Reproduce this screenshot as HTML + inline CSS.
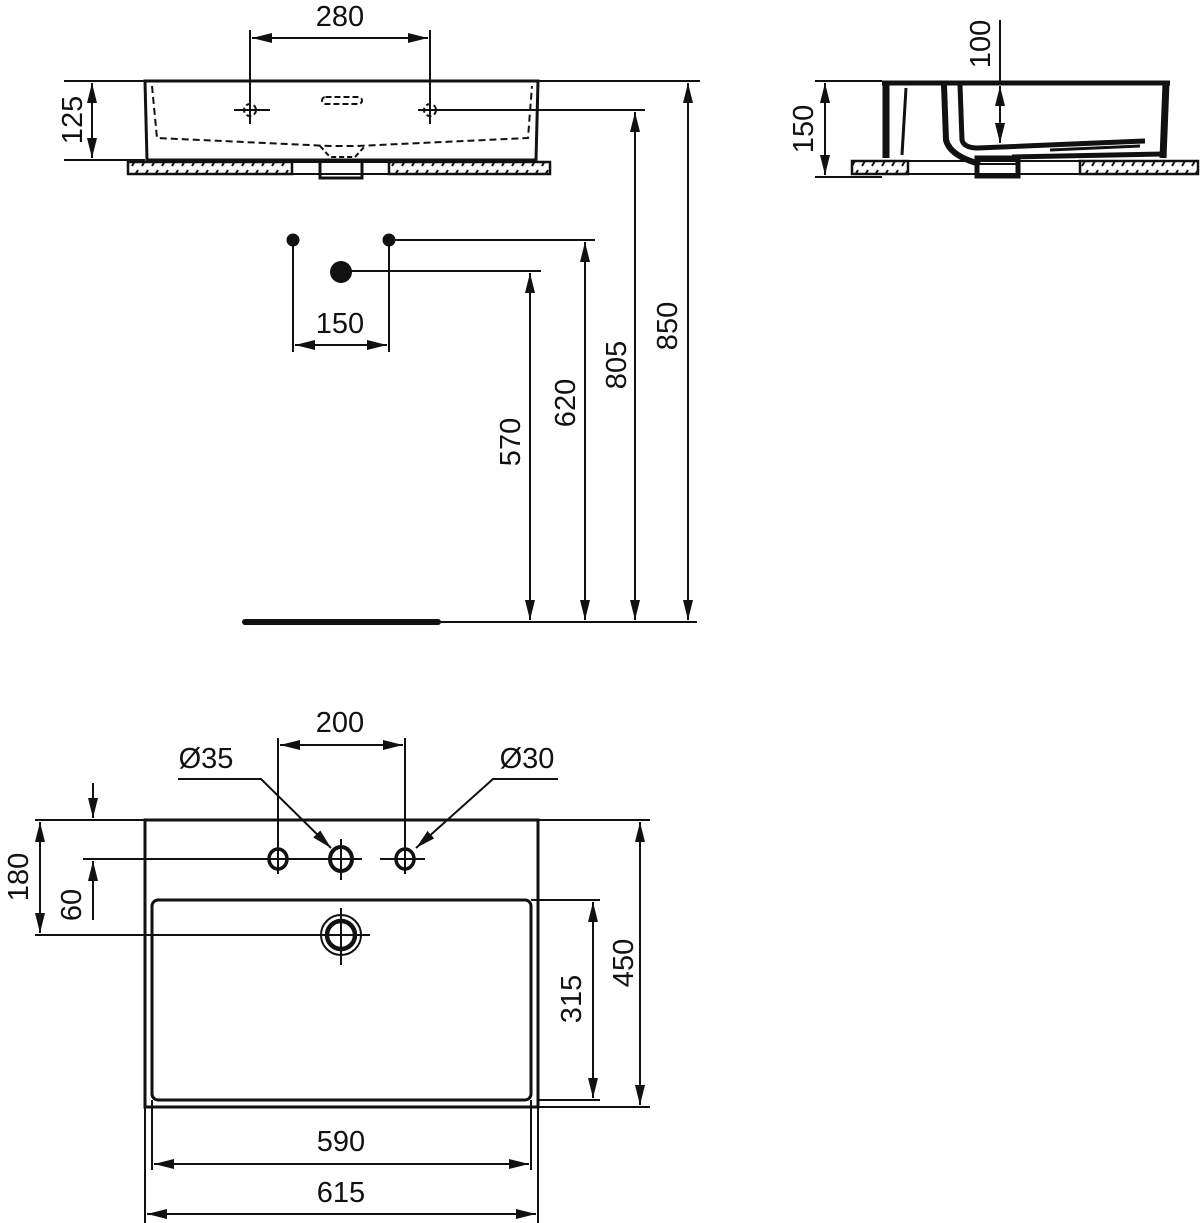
<!DOCTYPE html>
<html><head><meta charset="utf-8"><style>
html,body{margin:0;padding:0;background:#fff}
svg{display:block}
text{font-family:"Liberation Sans",sans-serif;font-size:29px;fill:#111}
</style></head><body>
<svg width="1200" height="1223" viewBox="0 0 1200 1223" xmlns="http://www.w3.org/2000/svg">
<defs>
<marker id="a" viewBox="0 0 20 10" refX="20" refY="5" markerWidth="20" markerHeight="10" markerUnits="userSpaceOnUse" orient="auto-start-reverse"><path d="M0,0 L20,5 L0,10 z" fill="#111"/></marker>
<pattern id="h" width="10" height="14" patternUnits="userSpaceOnUse"><line x1="2" y1="12" x2="8" y2="2" stroke="#111" stroke-width="2"/></pattern>
</defs>
<g stroke="#111" fill="none" stroke-width="2">
<!-- FRONT VIEW -->
<line x1="250" y1="30" x2="250" y2="124"/><line x1="430" y1="30" x2="430" y2="124"/>
<line x1="252" y1="38" x2="428" y2="38" marker-start="url(#a)" marker-end="url(#a)"/>
<line x1="64" y1="81" x2="700" y2="81"/>
<line x1="64" y1="160" x2="145" y2="160"/>
<line x1="92" y1="83" x2="92" y2="158" marker-start="url(#a)" marker-end="url(#a)"/>
<path d="M145,81 L538,81 L536,160 L147,160 Z" stroke-width="3"/>
<path d="M152,86 L157,138 L330,146 L357,146 L528,138 L532,86" stroke-dasharray="7,4"/>
<path d="M320,146 L330,157 L355,157 L365,146" stroke-dasharray="5,3"/>
<rect x="322" y="97" width="40" height="7" rx="3.5" stroke-dasharray="6,3"/>
<circle cx="250" cy="110" r="6" stroke-dasharray="5,3"/><line x1="234" y1="110" x2="270" y2="110"/>
<circle cx="430" cy="110" r="6" stroke-dasharray="5,3"/><line x1="418" y1="110" x2="645" y2="110"/>
<rect x="128" y="162" width="164" height="12" fill="url(#h)" stroke-width="2.5"/>
<rect x="389" y="162" width="161" height="12" fill="url(#h)" stroke-width="2.5"/>
<line x1="292" y1="162" x2="389" y2="162"/><line x1="292" y1="174" x2="389" y2="174"/>
<path d="M320,160 L320,178 L362,178 L362,160" stroke-width="3"/>
<!-- fixtures -->
<line x1="293" y1="240" x2="293" y2="352"/><line x1="389" y1="240" x2="389" y2="352"/>
<line x1="389" y1="240" x2="595" y2="240"/><line x1="341" y1="271" x2="541" y2="271"/>
<line x1="295" y1="345" x2="387" y2="345" marker-start="url(#a)" marker-end="url(#a)"/>
<line x1="530" y1="273" x2="530" y2="620" marker-start="url(#a)" marker-end="url(#a)"/>
<line x1="585" y1="242" x2="585" y2="620" marker-start="url(#a)" marker-end="url(#a)"/>
<line x1="635" y1="112" x2="635" y2="620" marker-start="url(#a)" marker-end="url(#a)"/>
<line x1="688" y1="83" x2="688" y2="620" marker-start="url(#a)" marker-end="url(#a)"/>
<line x1="440" y1="622" x2="697" y2="622"/>
<line x1="245" y1="622" x2="438" y2="622" stroke-width="6" stroke-linecap="round"/>
<!-- SIDE VIEW -->
<line x1="815" y1="81" x2="882" y2="81"/><line x1="815" y1="177" x2="882" y2="177"/>
<line x1="825" y1="83" x2="825" y2="175" marker-start="url(#a)" marker-end="url(#a)"/>
<line x1="1000" y1="20" x2="1000" y2="81"/>
<line x1="1000" y1="86" x2="1000" y2="143" marker-start="url(#a)" marker-end="url(#a)"/>
<rect x="852" y="161" width="56" height="13" fill="url(#h)" stroke-width="2.5"/>
<rect x="1080" y="161" width="118" height="13" fill="url(#h)" stroke-width="2.5"/>
<line x1="908" y1="161" x2="1080" y2="161"/><line x1="908" y1="174" x2="1080" y2="174"/>
<path d="M882,83 L1170,83" stroke-width="5"/>
<path d="M886,83 L886,158" stroke-width="7"/>
<path d="M906,88 L902,155" stroke-width="3"/>
<path d="M944,85 L946,140 Q950,156 980,164" stroke-width="6"/>
<path d="M960,85 L962,140 Q964,148 978,148 L1145,141" stroke-width="5"/>
<path d="M1166,83 L1163,158" stroke-width="7"/>
<path d="M1012,157 L1163,154" stroke-width="5"/>
<path d="M1050,150 L1140,146" stroke-width="3"/>
<rect x="977" y="158" width="41" height="18" stroke-width="5"/>
<line x1="977" y1="164" x2="1018" y2="164" stroke-width="2"/>
</g>
<g fill="#111">
<circle cx="293" cy="240" r="6.5"/><circle cx="389" cy="240" r="6.5"/><circle cx="341" cy="272" r="11"/>
</g>
<g stroke="#111" fill="none" stroke-width="2">
<!-- PLAN VIEW -->
<line x1="278" y1="738" x2="278" y2="874"/><line x1="405" y1="738" x2="405" y2="874"/>
<line x1="280" y1="745" x2="403" y2="745" marker-start="url(#a)" marker-end="url(#a)"/>
<rect x="145" y="820" width="393" height="287" stroke-width="3"/>
<rect x="152" y="900" width="379" height="200" rx="6" stroke-width="3"/>
<line x1="35" y1="820" x2="650" y2="820"/>
<line x1="531" y1="900" x2="600" y2="900"/>
<line x1="538" y1="1100" x2="600" y2="1100"/>
<line x1="538" y1="1107" x2="650" y2="1107"/>
<line x1="40" y1="822" x2="40" y2="933" marker-start="url(#a)" marker-end="url(#a)"/>
<line x1="35" y1="935" x2="370" y2="935"/>
<line x1="83" y1="859" x2="362" y2="859"/>
<line x1="380" y1="859" x2="425" y2="859"/>
<line x1="93" y1="783" x2="93" y2="818" marker-end="url(#a)"/>
<line x1="93" y1="920" x2="93" y2="861" marker-end="url(#a)"/>
<line x1="593" y1="902" x2="593" y2="1098" marker-start="url(#a)" marker-end="url(#a)"/>
<line x1="640" y1="822" x2="640" y2="1105" marker-start="url(#a)" marker-end="url(#a)"/>
<ellipse cx="278" cy="859" rx="9" ry="10" stroke-width="3.5"/>
<ellipse cx="341" cy="859" rx="11" ry="12" stroke-width="4"/>
<line x1="341" y1="839" x2="341" y2="880"/>
<ellipse cx="405" cy="859" rx="9" ry="10" stroke-width="3.5"/>
<circle cx="341" cy="935" r="20"/>
<circle cx="341" cy="935" r="14" stroke-width="4.5"/>
<line x1="341" y1="908" x2="341" y2="965"/>
<polyline points="178,779 261,779 331,848" marker-end="url(#a)"/>
<polyline points="558,779 493,779 416,848" marker-end="url(#a)"/>
<line x1="145" y1="1107" x2="145" y2="1223"/><line x1="538" y1="1107" x2="538" y2="1223"/>
<line x1="152" y1="1100" x2="152" y2="1170"/><line x1="531" y1="1100" x2="531" y2="1170"/>
<line x1="154" y1="1164" x2="529" y2="1164" marker-start="url(#a)" marker-end="url(#a)"/>
<line x1="147" y1="1214" x2="536" y2="1214" marker-start="url(#a)" marker-end="url(#a)"/>
</g>
<!-- texts -->
<text x="340" y="26" text-anchor="middle">280</text>
<text transform="translate(82,120) rotate(-90)" text-anchor="middle">125</text>
<text x="340" y="333" text-anchor="middle">150</text>
<text transform="translate(520,442) rotate(-90)" text-anchor="middle">570</text>
<text transform="translate(575,403) rotate(-90)" text-anchor="middle">620</text>
<text transform="translate(626,365) rotate(-90)" text-anchor="middle">805</text>
<text transform="translate(677,326) rotate(-90)" text-anchor="middle">850</text>
<text transform="translate(813,129) rotate(-90)" text-anchor="middle">150</text>
<text transform="translate(990,44) rotate(-90)" text-anchor="middle">100</text>
<text x="340" y="732" text-anchor="middle">200</text>
<text x="206" y="768" text-anchor="middle">Ø35</text>
<text x="527" y="768" text-anchor="middle">Ø30</text>
<text transform="translate(28,877) rotate(-90)" text-anchor="middle">180</text>
<text transform="translate(81,905) rotate(-90)" text-anchor="middle">60</text>
<text transform="translate(581,999) rotate(-90)" text-anchor="middle">315</text>
<text transform="translate(633,963) rotate(-90)" text-anchor="middle">450</text>
<text x="341" y="1151" text-anchor="middle">590</text>
<text x="341" y="1202" text-anchor="middle">615</text>
</svg>
</body></html>
